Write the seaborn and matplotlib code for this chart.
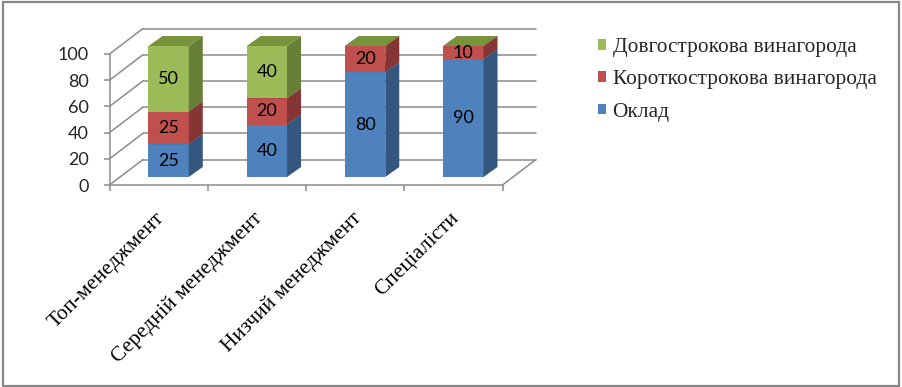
"""Pay structure by staff level: Excel-style 3D stacked bars drawn with seaborn."""
import matplotlib

matplotlib.use("Agg")
import matplotlib.pyplot as plt
import numpy as np
import seaborn as sns
from matplotlib.patches import Patch, Polygon, Rectangle

# --- data --------------------------------------------------------------------
categories = ["Топ-менеджмент", "Середній менеджмент", "Низчий менеджмент", "Спеціалісти"]
series_names = ["Оклад", "Короткострокова винагорода", "Довгострокова винагорода"]
salary = [25, 40, 80, 90]
short_term = [25, 20, 20, 10]
long_term = [50, 40, 0, 0]
y_ticks = [0, 20, 40, 60, 80, 100]

front_colors = ["#4F81BD", "#C0504D", "#9BBB59"]
side_colors = ["#34577F", "#853533", "#677F37"]
top_colors = ["#3F6A9C", "#96403E", "#77933C"]

# --- geometry (pixels -> data units) ----------------------------------------
W, H, DPI = 902, 387, 100
PX_X = 98.25          # pixels per category
PX_Y = 1.31           # pixels per value unit
bar_dx, bar_dy = 10 / PX_X, 8 / PX_Y        # bar front plane offset from front wall
depth_dx, depth_dy = 14 / PX_X, 10 / PX_Y   # bar depth
wall_dx, wall_dy = 33.5 / PX_X, 25.5 / PX_Y  # full depth of the chart box
grid_color = "#8C8C8C"
num_size = 13

sns.set_theme(style="white")
plt.rcParams["font.family"] = ["Lato", "DejaVu Sans"]

fig = plt.figure(figsize=(W / DPI, H / DPI), dpi=DPI)
ax = fig.add_axes([109.5 / W, 202 / H, 4 * PX_X / W, 100 * PX_Y / H])

x_left = -0.5 - bar_dx
x_right = x_left + len(categories)

# back wall and left wall grid
for v in y_ticks:
    ax.plot([x_left + wall_dx, x_right + wall_dx], [v + wall_dy, v + wall_dy],
            color=grid_color, lw=1.1, clip_on=False, zorder=0)
    ax.plot([x_left, x_left + wall_dx], [v, v + wall_dy],
            color=grid_color, lw=1.1, clip_on=False, zorder=0)
# floor right edge
ax.plot([x_right, x_right + wall_dx], [0, wall_dy],
        color=grid_color, lw=1.1, clip_on=False, zorder=0)

# stacked bars, bottom to top (painter's order)
stack = [salary, short_term, long_term]
below = np.zeros(len(categories))
width = 0.41
for k, vals in enumerate(stack):
    vals = np.asarray(vals, dtype=float)
    n_before = len(ax.patches)
    sns.barplot(x=categories, y=vals, bottom=below + bar_dy, width=width,
                color=front_colors[k], saturation=1, linewidth=0, ax=ax, zorder=3)
    for i, p in enumerate(ax.patches[n_before:]):
        p.set_clip_on(False)
        x0 = p.get_x()
        x1 = x0 + p.get_width()
        lo = below[i] + bar_dy
        hi = lo + vals[i]
        side = Polygon([(x1, lo), (x1 + depth_dx, lo + depth_dy),
                        (x1 + depth_dx, hi + depth_dy), (x1, hi)],
                       closed=True, facecolor=side_colors[k], lw=0, zorder=3,
                       clip_on=False)
        top = Polygon([(x0, hi), (x1, hi), (x1 + depth_dx, hi + depth_dy),
                       (x0 + depth_dx, hi + depth_dy)],
                      closed=True, facecolor=top_colors[k], lw=0, zorder=3,
                      clip_on=False)
        ax.add_patch(side)
        ax.add_patch(top)
        if vals[i] > 0:
            ax.text(x0 + p.get_width() / 2, lo + vals[i] / 2, f"{vals[i]:g}",
                    ha="center", va="center", fontsize=num_size, color="black",
                    family=["Lato", "DejaVu Sans"], zorder=5, clip_on=False)
    below = below + vals

# axes styling
ax.set_xlim(x_left, x_right)
ax.set_ylim(0, 100)
ax.set_yticks(y_ticks, [str(v) for v in y_ticks])
ax.set_xticks(np.arange(len(categories) + 1) + x_left, [])
for side_name in ["top", "right"]:
    ax.spines[side_name].set_visible(False)
for side_name in ["left", "bottom"]:
    ax.spines[side_name].set_color(grid_color)
    ax.spines[side_name].set_linewidth(1.1)
ax.tick_params(axis="y", length=4.3, width=1.1, color=grid_color, pad=10.5,
               labelsize=num_size, left=True, direction="out")
ax.tick_params(axis="x", length=4.3, width=1.1, color=grid_color, bottom=True,
               direction="out")
ax.set_xlabel("")
ax.set_ylabel("")
ax.patch.set_alpha(0)

# rotated category labels
for i, name in enumerate(categories):
    ax.text(i - 0.14, -18, name, rotation=45, rotation_mode="anchor",
            ha="right", va="top", fontsize=15.4, family="Liberation Serif",
            color="black", clip_on=False)

# legend
handles = [Patch(facecolor=front_colors[k], lw=0) for k in (2, 1, 0)]
labels = [series_names[k] for k in (2, 1, 0)]
fig.legend(handles, labels, loc="upper left", bbox_to_anchor=(598 / W, 1 - 38 / H),
           frameon=False, borderpad=0, borderaxespad=0, handlelength=0.38,
           handleheight=0.38, handletextpad=0.3, labelspacing=0.62,
           prop={"family": "Liberation Serif", "size": 15.4})

# outer chart border
fig.patches.append(Rectangle((3 / W, 1.5 / H), (899 - 3) / W, (385 - 1.5) / H,
                             transform=fig.transFigure, fill=False,
                             edgecolor="#878787", lw=1.6))

fig.savefig("out.png", dpi=DPI)
